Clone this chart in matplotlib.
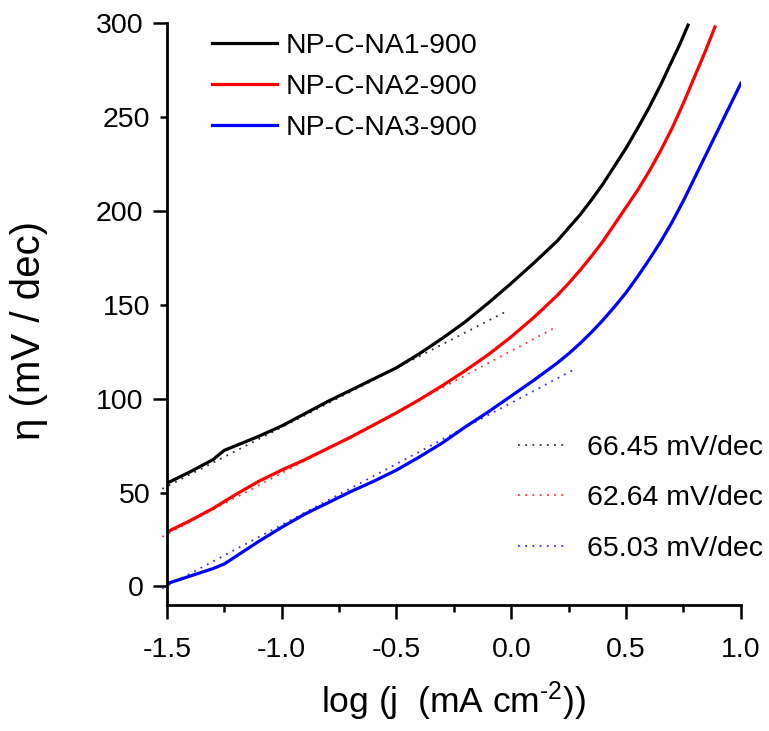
import matplotlib
matplotlib.use('Agg')
import matplotlib.pyplot as plt
from matplotlib.lines import Line2D

plt.rcParams['font.family'] = ['Liberation Sans', 'DejaVu Sans']
plt.rcParams['mathtext.fontset'] = 'custom'
plt.rcParams['mathtext.rm'] = 'Liberation Sans'
plt.rcParams['mathtext.it'] = 'Liberation Sans:italic'
plt.rcParams['axes.unicode_minus'] = False

# Tafel curves
x_na1 = [-1.5, -1.4, -1.3, -1.25, -1.2, -1.1, -1.0, -0.9, -0.8, -0.7, -0.6, -0.5,
         -0.4, -0.3, -0.2, -0.1, 0.0, 0.1, 0.2, 0.25, 0.3, 0.35, 0.4, 0.45, 0.5,
         0.55, 0.6, 0.65, 0.7, 0.735, 0.77]
y_na1 = [55, 61, 67.5, 72.5, 75, 80, 85.5, 92, 98.5, 104.5, 110.5, 116.5,
         124, 132.2, 141, 151, 161.5, 172.5, 184, 191, 198, 206, 214.5, 224, 233.5,
         244, 255, 267, 280, 289, 299]

x_na2 = [-1.5, -1.4, -1.3, -1.2, -1.1, -1.0, -0.9, -0.8, -0.7, -0.6, -0.5, -0.4,
         -0.3, -0.2, -0.1, 0.0, 0.1, 0.2, 0.25, 0.3, 0.35, 0.4, 0.45, 0.5, 0.55,
         0.6, 0.65, 0.7, 0.75, 0.8, 0.845, 0.887]
y_na2 = [29, 35, 41.5, 49, 56, 62, 67.5, 73.5, 79.5, 86, 92.5, 99.5,
         107, 115, 123.5, 133, 143.5, 155, 161.5, 168.5, 176, 184, 193, 202, 211,
         221, 232, 244, 257.5, 272, 285, 298]

x_na3 = [-1.5, -1.4, -1.3, -1.25, -1.2, -1.1, -1.0, -0.9, -0.8, -0.7, -0.6, -0.5,
         -0.4, -0.3, -0.2, -0.1, 0.0, 0.1, 0.2, 0.25, 0.3, 0.35, 0.4, 0.45, 0.5,
         0.55, 0.6, 0.65, 0.7, 0.75, 0.8, 0.85, 0.9, 0.95, 1.0]
y_na3 = [1.5, 5.5, 9.5, 12, 16, 24, 31.5, 38.5, 44.5, 50.5, 56, 62,
         69, 76.5, 85, 93, 101.5, 110, 119, 124, 129.5, 135.5, 142, 149, 156.5,
         165, 174, 183.5, 194, 205.5, 218, 230.5, 243, 255.5, 268]

# fitted Tafel lines (end points)
fit1_x = [-1.52, -0.03]
fit1_y = [52, 146]
fit2_x = [-1.52, 0.2]
fit2_y = [26.5, 138.5]
fit3_x = [-1.52, 0.28]
fit3_y = [-1, 116]

names = ['NP-C-NA1-900', 'NP-C-NA2-900', 'NP-C-NA3-900']
slopes = ['66.45 mV/dec', '62.64 mV/dec', '65.03 mV/dec']
colors = ['black', '#ff0000', '#0000ff']

fig = plt.figure(figsize=(7.69, 7.31), dpi=100)
ax = fig.add_axes([0.217, 0.172, 0.7464, 0.7962])

curves = [(x_na1, y_na1), (x_na2, y_na2), (x_na3, y_na3)]
fits = [(fit1_x, fit1_y), (fit2_x, fit2_y), (fit3_x, fit3_y)]
for (cx, cy), (fx, fy), c in zip(curves, fits, colors):
    ax.plot(fx, fy, color=c, lw=1.3, ls=(0, (1, 3)), clip_on=False, alpha=0.8)
    ax.plot(cx, cy, color=c, lw=2.3)

ax.set_xlim(-1.5, 1.0)
ax.set_ylim(-10, 300)
ax.set_xticks([-1.5, -1.0, -0.5, 0.0, 0.5, 1.0])
ax.set_xticklabels(['-1.5', '-1.0', '-0.5', '0.0', '0.5', '1.0'])
ax.set_xticks([-1.25, -0.75, -0.25, 0.25, 0.75], minor=True)
ax.set_yticks([0, 100, 200, 300])
ax.set_yticks([50, 150, 250], minor=True)
ax.set_yticklabels(['0', '100', '200', '300'])
ax.set_yticklabels(['50', '150', '250'], minor=True)

for s in ['top', 'right']:
    ax.spines[s].set_visible(False)
for s in ['left', 'bottom']:
    ax.spines[s].set_linewidth(2.0)

ax.tick_params(which='major', direction='out', length=10, width=1.8, labelsize=20.5, pad=7)
ax.tick_params(which='minor', direction='out', length=5, width=1.8, labelsize=20.5, pad=7)
ax.tick_params(axis='x', which='major', pad=13)

ax.set_xlabel(r'log (j  (mA cm$^{\text{-}2}$))', fontsize=25.5, labelpad=12)
ax.set_ylabel('η (mV / dec)', fontsize=29)
ax.yaxis.set_label_coords(-0.207, 0.4725)

h1 = [Line2D([], [], color=c, lw=2.3) for c in colors]
leg1 = ax.legend(h1, names, loc='upper left', bbox_to_anchor=(0.078, 0.983),
                 frameon=False, fontsize=20.5, handlelength=2.3, handletextpad=0.3,
                 labelspacing=0.53, borderpad=0, borderaxespad=0)
ax.add_artist(leg1)

h2 = [Line2D([], [], color=c, lw=1.3, ls=(0, (1, 3)), alpha=0.8) for c in colors]
ax.legend(h2, slopes, loc='upper left', bbox_to_anchor=(0.6115, 0.293),
          frameon=False, fontsize=20.5, handlelength=1.65, handletextpad=0.77,
          labelspacing=0.86, borderpad=0, borderaxespad=0)

fig.savefig('out.png', dpi=100)
